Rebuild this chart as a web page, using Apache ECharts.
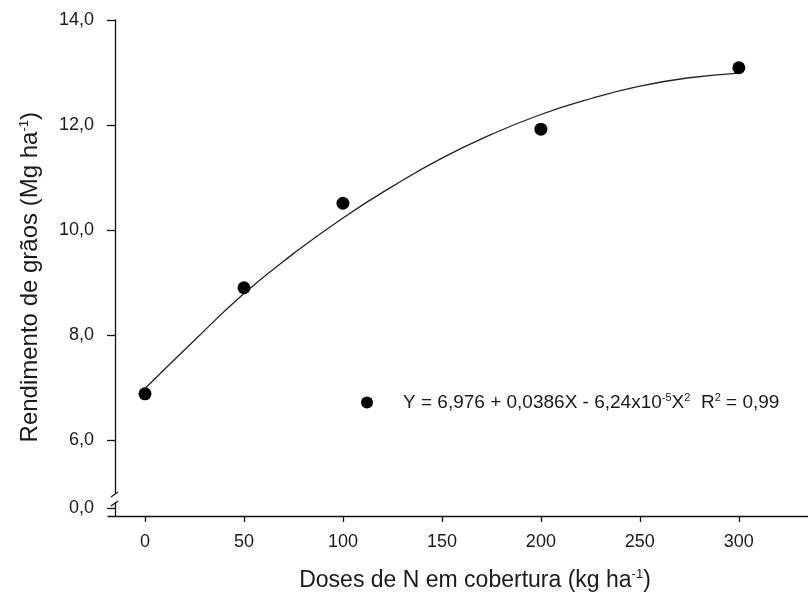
<!DOCTYPE html>
<html>
<head>
<meta charset="utf-8">
<script src="https://cdn.jsdelivr.net/npm/echarts@6/dist/echarts.min.js"></script>
<style>html,body{margin:0;background:#fff}#chart{width:808px;height:598px}</style>
</head>
<body>
<div id="chart"></div>
<script>
	// dados
	var doses = [0, 50, 100, 200, 300];
	var rendimento = [6.88, 8.9, 10.51, 11.92, 13.09];
	// curva ajustada, lida ponto a ponto no gráfico
	var curvaX = [0, 25, 50, 75, 100, 125, 150, 175, 200, 225, 250, 275, 300];
	var curvaY = [6.98, 7.9, 8.79, 9.55, 10.23, 10.83, 11.37, 11.82, 12.2, 12.5, 12.74, 12.9, 12.99];
	var xTicks = [0, 50, 100, 150, 200, 250, 300];
	var yTicks = [6, 8, 10, 12, 14];
	var yTicksBaixo = [0];
	var equacao = 'Y = 6,976 + 0,0386X - 6,24x10{sup|-5}X{sup|2}  R{sup|2} = 0,99';

	var fonte = 'Liberation Sans, Arial, sans-serif';
	var cor = '#1a1a1a';

	var fmt = function(v) {
		return v.toFixed(1).replace('.', ',');
	};

	var pontos = [];
	for (var i = 0; i < doses.length; i++) {
		pontos.push([ doses[i], rendimento[i] ]);
	}
	var curva = [];
	for (var j = 0; j < curvaX.length; j++) {
		curva.push([ curvaX[j], curvaY[j] ]);
	}

	var xMin = -18.7, xMax = 340;
	var lineStyle = { color : '#111', width : 1.3 };
	var supTitulo = { fontSize : 13, padding : [ 0, 0, 12, 0 ], color : cor, fontFamily : fonte };

	var options = {
		animation : false,
		textStyle : { fontFamily : fonte },
		grid : [ {
			left : 108, top : 20, width : 710, height : 472.5, outerBoundsMode : 'none'
		}, {
			left : 108, top : 503, width : 710, height : 13, outerBoundsMode : 'none'
		} ],
		legend : {
			left : 356, top : 387,
			itemWidth : 12, itemHeight : 12,
			icon : 'circle',
			data : [ 'eq' ],
			formatter : function() { return equacao; },
			textStyle : {
				color : cor, fontSize : 19, fontFamily : fonte,
				padding : [ 0, 0, 0, 25 ],
				rich : {
					sup : { fontSize : 11, padding : [ 0, 0, 10, 0 ], color : cor, fontFamily : fonte }
				}
			}
		},
		xAxis : [ {
			gridIndex : 0, type : 'value', min : xMin, max : xMax,
			show : false
		}, {
			gridIndex : 1, type : 'value', min : xMin, max : xMax,
			position : 'bottom',
			splitLine : { show : false },
			axisLine : { onZero : false, lineStyle : lineStyle },
			axisTick : { show : true, length : 6, customValues : xTicks, lineStyle : lineStyle },
			axisLabel : { customValues : xTicks, color : cor, fontSize : 18, margin : 17, fontFamily : fonte },
			name : 'Doses de N em cobertura (kg ha{sup|-1})',
			nameLocation : 'middle',
			nameGap : 52,
			nameTextStyle : {
				color : cor, fontSize : 23, fontFamily : fonte,
				padding : [ 0, 0, 0, 24 ],
				rich : { sup : supTitulo }
			}
		} ],
		yAxis : [ {
			gridIndex : 0, type : 'value', min : 5, max : 14,
			offset : -7,
			splitLine : { show : false },
			axisLine : { show : true, onZero : false, lineStyle : lineStyle },
			axisTick : { show : true, length : 8, customValues : yTicks, lineStyle : lineStyle },
			axisLabel : { customValues : yTicks, formatter : fmt, color : cor, fontSize : 18, margin : 21, fontFamily : fonte },
			name : 'Rendimento de grãos (Mg ha{sup|-1})',
			nameLocation : 'middle',
			nameGap : 72,
			nameTextStyle : {
				color : cor, fontSize : 24, fontFamily : fonte,
				padding : [ 0, 42, 0, 0 ],
				rich : { sup : supTitulo }
			}
		}, {
			gridIndex : 1, type : 'value', min : -1, max : 0.625,
			offset : -7,
			splitLine : { show : false },
			axisLine : { show : true, onZero : false, lineStyle : lineStyle },
			axisTick : { show : true, length : 8, customValues : yTicksBaixo, lineStyle : lineStyle },
			axisLabel : { customValues : yTicksBaixo, formatter : fmt, color : cor, fontSize : 18, margin : 21, fontFamily : fonte }
		} ],
		graphic : [ {
			type : 'line', shape : { x1 : 111, y1 : 497, x2 : 118, y2 : 492 }, style : { stroke : '#111', lineWidth : 1.3 }
		}, {
			type : 'line', shape : { x1 : 111, y1 : 506, x2 : 118, y2 : 501 }, style : { stroke : '#111', lineWidth : 1.3 }
		} ],
		series : [ {
			name : 'eq',
			type : 'scatter',
			xAxisIndex : 0, yAxisIndex : 0,
			symbolSize : 13,
			itemStyle : { color : '#000', opacity : 1 },
			data : pontos,
			z : 3
		}, {
			name : 'curva',
			type : 'line',
			xAxisIndex : 0, yAxisIndex : 0,
			smooth : true,
			symbol : 'none',
			lineStyle : { color : '#222', width : 1.3 },
			data : curva,
			z : 2
		} ]
	};

	var chart = echarts.init(document.getElementById('chart'));
	chart.setOption(options);
</script>
</body>
</html>
